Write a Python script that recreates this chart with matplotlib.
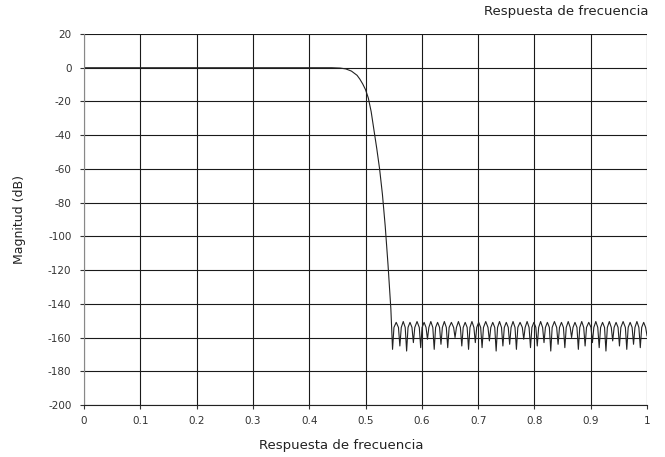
import matplotlib
matplotlib.use("Agg")
import matplotlib.pyplot as plt

# Passband + transition band (normalised frequency, dB)
pass_f = [0.0, 0.1, 0.2, 0.3, 0.4, 0.44, 0.455, 0.465, 0.475, 0.485, 0.49, 0.495,
          0.50, 0.505, 0.51, 0.515, 0.52, 0.525, 0.53, 0.535, 0.54, 0.545, 0.548]
pass_db = [0.0, 0.0, 0.0, 0.0, 0.0, 0.0, -0.2, -0.7, -2.0, -4.5, -6.8, -9.6,
           -13.0, -18.0, -26.0, -37.0, -48.0, -60.0, -75.0, -94.0, -117.0, -143.0, -167.0]

# Stopband ripple (one lobe per row: null, rise, peak, fall)
stop_f = [0.548, 0.5505, 0.5545, 0.5585,
          0.561, 0.5635, 0.567, 0.5705,
          0.573, 0.5755, 0.579, 0.5825,
          0.585, 0.5875, 0.5915, 0.5955,
          0.598, 0.6005, 0.604, 0.6075,
          0.610, 0.6125, 0.616, 0.6195,
          0.622, 0.6245, 0.628, 0.6315,
          0.634, 0.6365, 0.640, 0.6435,
          0.646, 0.6485, 0.6525, 0.6565,
          0.659, 0.6615, 0.665, 0.6685,
          0.671, 0.6735, 0.677, 0.6805,
          0.683, 0.6855, 0.689, 0.6925,
          0.695, 0.6975, 0.701, 0.7045,
          0.707, 0.7095, 0.7135, 0.7175,
          0.720, 0.7225, 0.726, 0.7295,
          0.732, 0.7345, 0.738, 0.7415,
          0.744, 0.7465, 0.750, 0.7535,
          0.756, 0.7585, 0.762, 0.7655,
          0.768, 0.7705, 0.7745, 0.7785,
          0.781, 0.7835, 0.787, 0.7905,
          0.793, 0.7955, 0.799, 0.8025,
          0.805, 0.8075, 0.811, 0.8145,
          0.817, 0.8195, 0.823, 0.8265,
          0.829, 0.8315, 0.8355, 0.8395,
          0.842, 0.8445, 0.848, 0.8515,
          0.854, 0.8565, 0.860, 0.8635,
          0.866, 0.8685, 0.872, 0.8755,
          0.878, 0.8805, 0.884, 0.8875,
          0.890, 0.8925, 0.8965, 0.9005,
          0.903, 0.9055, 0.909, 0.9125,
          0.915, 0.9175, 0.921, 0.9245,
          0.927, 0.9295, 0.933, 0.9365,
          0.939, 0.9415, 0.945, 0.9485,
          0.951, 0.9535, 0.9575, 0.9615,
          0.964, 0.9665, 0.970, 0.9735,
          0.976, 0.9785, 0.982, 0.9855,
          0.988, 0.9905, 0.994, 0.9975,
          1.000]
stop_db = [-167, -154, -151, -154,
           -165, -154, -150.5, -154,
           -168, -154, -151, -154,
           -163, -154, -150.5, -154,
           -166, -154, -151, -154,
           -161, -154, -150.5, -154,
           -167, -154, -151, -154,
           -164, -154, -150.5, -154,
           -166, -154, -151, -154,
           -160, -154, -150.5, -154,
           -165, -154, -151, -154,
           -167, -154, -150.5, -154,
           -163, -154, -151, -154,
           -166, -154, -150.5, -154,
           -162, -154, -151, -154,
           -168, -154, -150.5, -154,
           -165, -154, -151, -154,
           -164, -154, -150.5, -154,
           -167, -154, -151, -154,
           -161, -154, -150.5, -154,
           -166, -154, -151, -154,
           -165, -154, -150.5, -154,
           -163, -154, -151, -154,
           -168, -154, -150.5, -154,
           -164, -154, -151, -154,
           -166, -154, -150.5, -154,
           -160, -154, -151, -154,
           -167, -154, -150.5, -154,
           -165, -154, -151, -154,
           -163, -154, -150.5, -154,
           -166, -154, -151, -154,
           -168, -154, -150.5, -154,
           -162, -154, -151, -154,
           -165, -154, -150.5, -154,
           -167, -154, -151, -154,
           -164, -154, -150.5, -154,
           -166, -154, -151, -154,
           -159]

x_ticks = [0, 0.1, 0.2, 0.3, 0.4, 0.5, 0.6, 0.7, 0.8, 0.9, 1]
x_labels = ["0", "0.1", "0.2", "0.3", "0.4", "0.5", "0.6", "0.7", "0.8", "0.9", "1"]
y_ticks = [20, 0, -20, -40, -60, -80, -100, -120, -140, -160, -180, -200]

fig = plt.figure(figsize=(6.65, 4.57), dpi=100)
ax = fig.add_axes([0.1263, 0.1138, 0.8467, 0.8118])

ax.plot(pass_f + stop_f[1:], pass_db + stop_db[1:], color="#222222", lw=0.8)

ax.set_xlim(0, 1)
ax.set_ylim(-200, 20)
ax.set_xticks(x_ticks)
ax.set_xticklabels(x_labels)
ax.set_yticks(y_ticks)
ax.set_yticklabels([str(v) for v in y_ticks])
ax.grid(True, color="#1a1a1a", lw=0.8)
ax.set_axisbelow(True)
for s in ["top", "right"]:
    ax.spines[s].set_visible(False)
ax.spines["left"].set_color("#888888")
ax.spines["bottom"].set_color("#222222")
ax.tick_params(axis="both", labelsize=7.5, colors="#333333", length=3, width=0.8)
ax.tick_params(axis="y", pad=6)
ax.tick_params(axis="x", pad=5)

ax.set_ylabel("Magnitud (dB)", fontsize=9, color="#222222", labelpad=16)
fig.text(341 / 665, 1 - 445 / 457, "Respuesta de frecuencia", ha="center", va="center",
         fontsize=9.5, color="#222222")
fig.text(0.975, 1 - 12 / 457, "Respuesta de frecuencia", ha="right", va="center",
         fontsize=9.5, color="#222222")

fig.savefig("out.png", dpi=100)
